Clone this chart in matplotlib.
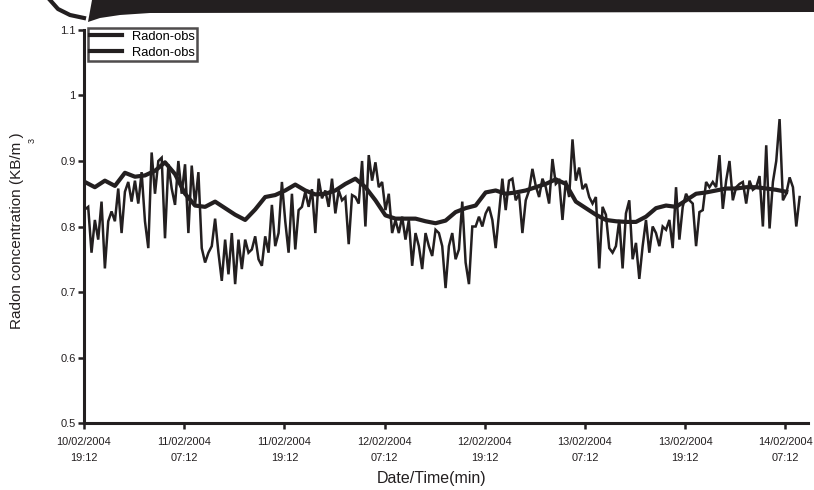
import numpy as np
import pandas as pd
import matplotlib
matplotlib.use("Agg")
import matplotlib.pyplot as plt
import matplotlib.dates as mdates
from matplotlib.patches import Polygon
from matplotlib.lines import Line2D
from matplotlib.ticker import FuncFormatter

plt.rcParams["font.family"] = ["Liberation Sans", "DejaVu Sans"]

INK = "#231f20"

# ── Data ──────────────────────────────────────────────────────────────────
start = pd.Timestamp("2004-02-10 19:12")

# observed radon, sampled every 24 min
radon_obs = [
    0.826, 0.83, 0.76, 0.81, 0.78, 0.838, 0.736, 0.808, 0.823, 0.808,
    0.858, 0.79, 0.853, 0.868,
    0.838, 0.87, 0.835, 0.883, 0.808, 0.767, 0.913, 0.85, 0.9, 0.905,
    0.782, 0.895, 0.858, 0.833, 0.9, 0.85, 0.895, 0.79, 0.893, 0.833,
    0.883, 0.767, 0.745,
    0.76, 0.77, 0.812, 0.76, 0.717, 0.78, 0.727, 0.79, 0.712, 0.78,
    0.735, 0.78, 0.76, 0.765, 0.785, 0.75, 0.74, 0.785, 0.76, 0.833,
    0.77, 0.79, 0.868, 0.808, 0.76, 0.85, 0.765, 0.825, 0.83, 0.853,
    0.83, 0.857, 0.79, 0.873, 0.843,
    0.855, 0.83, 0.873, 0.82, 0.855, 0.84, 0.845, 0.773, 0.848, 0.845,
    0.835, 0.9, 0.80, 0.909, 0.87, 0.898, 0.86, 0.868, 0.825, 0.85,
    0.79, 0.81, 0.79, 0.815, 0.78, 0.81, 0.74, 0.79, 0.77, 0.735,
    0.79, 0.77, 0.755, 0.795, 0.79, 0.77,
    0.706, 0.77, 0.79, 0.75, 0.765, 0.838, 0.745, 0.712, 0.80, 0.80,
    0.815, 0.80, 0.82, 0.83, 0.81, 0.767, 0.82, 0.873, 0.825, 0.87,
    0.873, 0.84, 0.85, 0.79, 0.84, 0.855, 0.888, 0.862, 0.845, 0.873,
    0.86, 0.835, 0.903, 0.865, 0.87, 0.81,
    0.87, 0.845, 0.933, 0.87, 0.89, 0.857, 0.865, 0.845, 0.835, 0.845,
    0.736, 0.83, 0.818, 0.767, 0.76, 0.77, 0.81, 0.736, 0.82, 0.84,
    0.75, 0.775, 0.72, 0.77, 0.81, 0.76, 0.80, 0.79, 0.77, 0.80,
    0.795, 0.81, 0.767, 0.86, 0.78, 0.83,
    0.85, 0.84, 0.835, 0.77, 0.822, 0.825, 0.868, 0.86, 0.868, 0.86,
    0.909, 0.827, 0.87, 0.90, 0.84, 0.86, 0.865, 0.868, 0.835, 0.87,
    0.856, 0.86, 0.877, 0.80, 0.924, 0.797, 0.868, 0.90, 0.964, 0.84,
    0.85, 0.875, 0.86, 0.80, 0.845,
]

# smooth curve, sampled every 72 min
radon_smooth = [
    0.868, 0.86, 0.87, 0.862, 0.882, 0.876, 0.878, 0.885, 0.898, 0.88,
    0.85, 0.832, 0.83, 0.838, 0.828, 0.818, 0.81, 0.826, 0.845, 0.848,
    0.855, 0.864, 0.855, 0.849, 0.85, 0.855, 0.865, 0.873, 0.86, 0.84,
    0.817, 0.812, 0.812, 0.812, 0.808, 0.805, 0.809, 0.822, 0.828, 0.832,
    0.852, 0.855, 0.85, 0.852, 0.855, 0.86, 0.865, 0.872, 0.865, 0.838,
    0.828, 0.818, 0.81, 0.808, 0.807, 0.807, 0.815, 0.828, 0.832, 0.83,
    0.84, 0.85, 0.852, 0.855, 0.858, 0.858, 0.86, 0.86, 0.858, 0.856,
    0.853,
]

t_obs = pd.date_range(start + pd.Timedelta(minutes=6), periods=len(radon_obs), freq="24min")
t_smooth = pd.date_range(start + pd.Timedelta(minutes=6), periods=len(radon_smooth), freq="72min")
x_ticks = pd.date_range(start, periods=8, freq="12h")
y_ticks = [0.5, 0.6, 0.7, 0.8, 0.9, 1.0, 1.1]

# ── Figure ────────────────────────────────────────────────────────────────
fig = plt.figure(figsize=(8.14, 4.9), dpi=100)
ax = fig.add_axes([0.1032, 0.1367, 0.8894, 0.8021])

l_obs, = ax.plot(t_obs, radon_obs, color=INK, lw=1.8, solid_joinstyle="miter")
l_sm, = ax.plot(t_smooth, radon_smooth, color=INK, lw=3.0, solid_joinstyle="round")

ax.set_xlim(start, start + pd.Timedelta(hours=86.7))
ax.set_ylim(0.5, 1.1)
ax.set_xticks(x_ticks)
ax.xaxis.set_major_formatter(mdates.DateFormatter("%d/%m/%Y\n%H:%M"))
ax.set_yticks(y_ticks)
ax.yaxis.set_major_formatter(FuncFormatter(lambda v, _: f"{v:g}"))

for side in ("top", "right"):
    ax.spines[side].set_visible(False)
for side in ("left", "bottom"):
    ax.spines[side].set_linewidth(2.2)
    ax.spines[side].set_color(INK)

ax.tick_params(axis="both", colors=INK, width=1.8, length=4)
ax.tick_params(axis="x", pad=6, labelsize=7.9)
ax.tick_params(axis="y", pad=2, labelsize=8)
for lab in ax.get_xticklabels():
    lab.set_linespacing(1.75)

ax.set_xlabel("Date/Time(min)", fontsize=11.5, color=INK)
ax.xaxis.set_label_coords(0.48, -0.122)
ax.set_ylabel("Radon concentration (KB/m )", fontsize=11, color=INK)
ax.yaxis.set_label_coords(-0.083, 0.49)
ax.text(-0.071, 0.72, "3", transform=ax.transAxes, rotation=90,
        fontsize=6.5, color=INK, ha="center", va="center")

leg = ax.legend([l_obs, l_sm], ["Radon-obs", "Radon-obs"],
                loc="upper left", bbox_to_anchor=(0.005, 1.005),
                fontsize=9.3, frameon=True, fancybox=False,
                handlelength=2.5, handletextpad=0.7, labelspacing=0.3,
                borderpad=0.2, borderaxespad=0)
leg.get_frame().set_edgecolor(INK)
leg.get_frame().set_linewidth(1.8)
for h in leg.get_lines():
    h.set_linewidth(3.0)

# ── scan artefact across the top of the page ──────────────────────────────
W, H = 814, 490
band = [(88, 22), (100, 18), (120, 15), (150, 13), (814, 12), (814, 0), (92, 0)]
fig.patches.append(Polygon([(x / W, 1 - y / H) for x, y in band], closed=True,
                           transform=fig.transFigure, facecolor=INK, edgecolor="none"))
arc = [(50, 0), (58, 9), (70, 15), (84, 18)]
fig.lines.append(Line2D([x / W for x, _ in arc], [1 - y / H for _, y in arc],
                        transform=fig.transFigure, color=INK, lw=3))

fig.savefig("out.png", dpi=100)
